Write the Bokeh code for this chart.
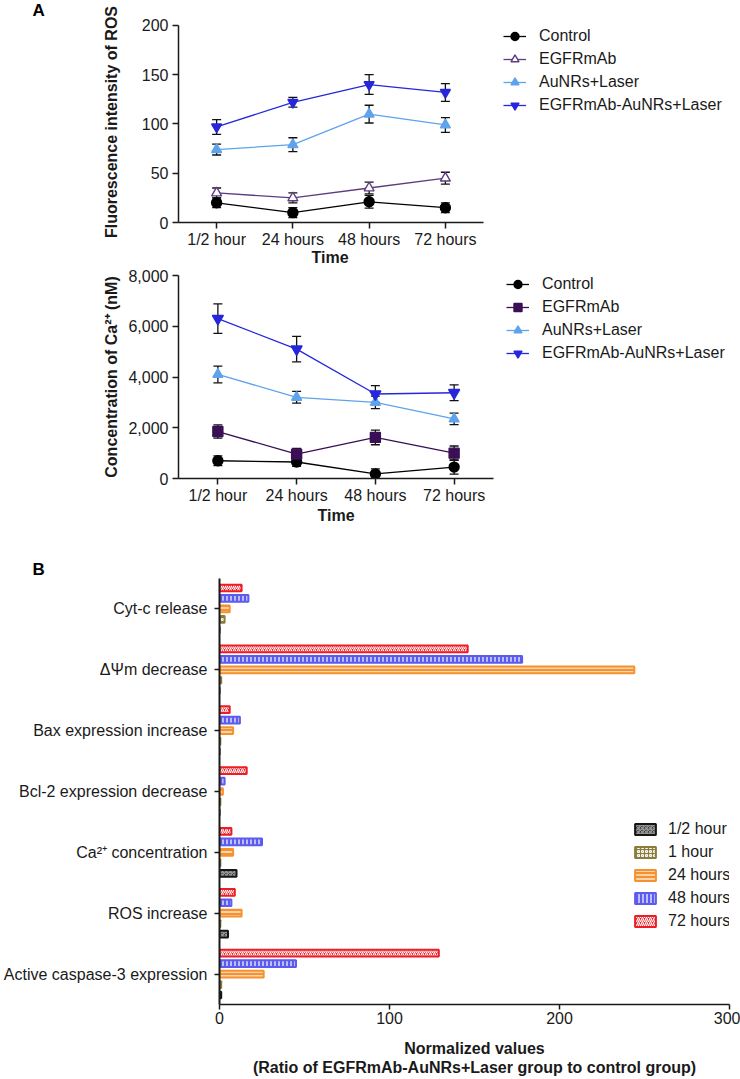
from bokeh.plotting import figure
from bokeh.models import (ColumnDataSource, Whisker, TeeHead, Legend, LegendItem,
                          FixedTicker, NumeralTickFormatter, FactorRange, Title)
from bokeh.transform import dodge
from bokeh.embed import file_html
from bokeh.resources import INLINE

FONT = "Liberation Sans"

# ---------------- data ----------------
time_labels = ["1/2 hour", "24 hours", "48 hours", "72 hours"]
time_idx = [0, 1, 2, 3]

# Panel A (top): fluorescence intensity of ROS
ros_control = [20, 10, 21, 15]
ros_control_err = [5, 5, 6.5, 5]
ros_egfrmab = [30, 25, 35, 45]
ros_egfrmab_err = [5, 5, 6, 6]
ros_aunrs = [74, 79, 110, 99]
ros_aunrs_err = [5.5, 7, 9, 7.5]
ros_egfr_aunrs = [97, 122, 140, 132]
ros_egfr_aunrs_err = [7.5, 5, 10, 9]
ros_ticks = [0, 50, 100, 150, 200]

# Panel A (bottom): Ca2+ concentration (nM)
ca_control = [700, 650, 180, 450]
ca_control_err = [190, 170, 200, 280]
ca_egfrmab = [1850, 960, 1620, 1000]
ca_egfrmab_err = [260, 230, 290, 280]
ca_aunrs = [4100, 3200, 3000, 2350]
ca_aunrs_err = [330, 230, 250, 230]
ca_egfr_aunrs = [6300, 5100, 3330, 3380]
ca_egfr_aunrs_err = [580, 500, 330, 310]
ca_ticks = [0, 2000, 4000, 6000, 8000]

group_names = ["Control", "EGFRmAb", "AuNRs+Laser", "EGFRmAb-AuNRs+Laser"]

# Panel B: normalized values
b_categories = ["Cyt-c release", "\u0394\u03a8m decrease", "Bax expression increase",
                "Bcl-2 expression decrease", "Ca\u00b2\u207a concentration",
                "ROS increase", "Active caspase-3 expression"]
b_half_hour = [0, 0, 0, 0, 10, 5, 1]
b_one_hour = [3, 1, 0.5, 0.5, 0.5, 0.5, 1]
b_24_hours = [6, 244, 8, 2, 8, 13, 26]
b_48_hours = [17, 178, 12, 3, 25, 7, 45]
b_72_hours = [13, 146, 6, 16, 7, 9, 129]
b_series_labels = ["1/2 hour", "1 hour", "24 hours", "48 hours", "72 hours"]
b_ticks = [0, 100, 200, 300]

# ---------------- styles ----------------
C_CTRL = "#000000"
C_EGFR_A = "#5d3d80"
C_EGFR_B = "#3b0f55"
C_AU = "#5ea3ec"
C_EA = "#2626dc"
TXT = "#1a1a1a"


def style(p):
    p.outline_line_color = None
    p.xgrid.visible = False
    p.ygrid.visible = False
    for ax in p.axis:
        ax.axis_line_width = 1.5
        ax.axis_line_color = TXT
        ax.major_tick_line_width = 1.5
        ax.major_tick_line_color = TXT
        ax.major_tick_in = 0
        ax.major_tick_out = 6
        ax.minor_tick_line_color = None
        ax.major_label_text_font = FONT
        ax.major_label_text_font_size = "16px"
        ax.major_label_text_color = TXT
        ax.axis_label_text_font = FONT
        ax.axis_label_text_font_size = "16px"
        ax.axis_label_text_font_style = "bold"
        ax.axis_label_text_color = TXT


def panel_title(p, text, offset, valign):
    p.title.text = text
    p.title.text_font = FONT
    p.title.text_font_size = "17px"
    p.title.text_font_style = "bold"
    p.title.text_color = "#000000"
    p.title.align = "left"
    p.title.offset = offset
    p.title.standoff = 0
    p.title.vertical_align = valign


def line_panel(p, series, legend_loc):
    items = []
    for name, vals, errs, color, marker, fill, size in series:
        src = ColumnDataSource(dict(
            x=time_idx, y=vals,
            lo=[v - e for v, e in zip(vals, errs)],
            hi=[v + e for v, e in zip(vals, errs)]))
        w = Whisker(source=src, base="x", upper="hi", lower="lo", dimension="height",
                    line_color="#111111", line_width=1.3,
                    upper_head=TeeHead(size=9, line_color="#111111", line_width=1.3),
                    lower_head=TeeHead(size=9, line_color="#111111", line_width=1.3))
        p.add_layout(w)
        rl = p.line("x", "y", source=src, line_color=color, line_width=1.3)
        rm = p.scatter("x", "y", source=src, marker=marker, size=size,
                       fill_color=fill, line_color=color, line_width=1.4)
        items.append(LegendItem(label=name, renderers=[rl, rm]))
    leg = Legend(items=items, location=legend_loc, padding=0, margin=0,
                 border_line_color=None, background_fill_alpha=0,
                 label_text_font=FONT, label_text_font_size="16px",
                 label_text_color=TXT,
                 glyph_width=23, glyph_height=20, label_height=20,
                 spacing=3, label_standoff=13)
    p.add_layout(leg)


def time_axis(p, title_offset, title_standoff):
    p.xaxis.ticker = FixedTicker(ticks=time_idx)
    p.xaxis.major_label_overrides = {i: t for i, t in zip(time_idx, time_labels)}
    p.xaxis.major_label_standoff = 2
    # the axis line only spans the four time points (legend sits to the right)
    p.xaxis.bounds = (-0.5, 3.5)
    p.add_layout(Title(text="Time", align="left", offset=title_offset,
                       standoff=title_standoff, vertical_align="top",
                       text_font=FONT, text_font_size="16px", text_font_style="bold",
                       text_color=TXT), "below")


# ---------------- figure 1 : ROS ----------------
# frame spans x=178..740; the 4 time slots occupy the first 305 px
p1 = figure(width=740, height=265, x_range=(-0.5, -0.5 + 562 / 76.25), y_range=(0, 204),
            output_backend="svg", toolbar_location=None,
            min_border_left=178, min_border_right=0,
            min_border_top=20, min_border_bottom=41)
style(p1)
time_axis(p1, 133, -4)
p1.yaxis.ticker = FixedTicker(ticks=ros_ticks)
p1.yaxis.bounds = (0, 200)
p1.yaxis.axis_label = "Fluorescence intensity of ROS"
p1.yaxis.major_label_standoff = 4
p1.yaxis.axis_label_standoff = 19
panel_title(p1, "A", -146, "top")
line_panel(p1, [
    (group_names[0], ros_control, ros_control_err, C_CTRL, "circle", C_CTRL, 10),
    (group_names[1], ros_egfrmab, ros_egfrmab_err, C_EGFR_A, "triangle", "white", 10),
    (group_names[2], ros_aunrs, ros_aunrs_err, C_AU, "triangle", C_AU, 10),
    (group_names[3], ros_egfr_aunrs, ros_egfr_aunrs_err, C_EA, "inverted_triangle", C_EA, 10),
], (325, 107))

# ---------------- figure 2 : Ca2+ ----------------
# frame spans x=178..740; the 4 time slots occupy the first 315 px
p2 = figure(width=740, height=260, x_range=(-0.5, -0.5 + 562 / 78.75), y_range=(0, 8000),
            output_backend="svg", toolbar_location=None,
            min_border_left=178, min_border_right=0,
            min_border_top=10, min_border_bottom=45)
style(p2)
time_axis(p2, 139, 0)
p2.yaxis.ticker = FixedTicker(ticks=ca_ticks)
p2.yaxis.formatter = NumeralTickFormatter(format="0,0")
p2.yaxis.axis_label = "Concentration of Ca\u00b2\u207a (nM)"
p2.yaxis.major_label_standoff = 4
p2.yaxis.axis_label_standoff = 5
line_panel(p2, [
    (group_names[0], ca_control, ca_control_err, C_CTRL, "circle", C_CTRL, 10),
    (group_names[1], ca_egfrmab, ca_egfrmab_err, C_EGFR_B, "square", C_EGFR_B, 10),
    (group_names[2], ca_aunrs, ca_aunrs_err, C_AU, "triangle", C_AU, 10),
    (group_names[3], ca_egfr_aunrs, ca_egfr_aunrs_err, C_EA, "inverted_triangle", C_EA, 11),
], (328, 115))

# ---------------- figure 3 : normalized values ----------------
p3 = figure(width=740, height=554, x_range=(0, 300),
            y_range=FactorRange(factors=list(reversed(b_categories)), range_padding=0),
            output_backend="svg", toolbar_location=None,
            min_border_left=219, min_border_right=11,
            min_border_top=53, min_border_bottom=74)
style(p3)
panel_title(p3, "B", -187, "bottom")
p3.xaxis.ticker = FixedTicker(ticks=b_ticks)
p3.xaxis.major_tick_out = 5
p3.xaxis.major_label_standoff = 2
p3.xaxis.axis_label = "Normalized values\n(Ratio of EGFRmAb-AuNRs+Laser group to control group)"
p3.xaxis.axis_label_standoff = 13
p3.xaxis.axis_label_text_line_height = 1.15
p3.yaxis.major_tick_out = 5
p3.yaxis.major_label_standoff = 7
p3.yaxis.axis_line_width = 2

src3 = ColumnDataSource(dict(cat=b_categories, h05=b_half_hour, h1=b_one_hour,
                             h24=b_24_hours, h48=b_48_hours, h72=b_72_hours))
b_styles = [
    ("h05", -0.344, "#161616", "criss_cross", "#9a9a9a"),
    ("h1", -0.172, "#8a7d3c", "ring", "white"),
    ("h24", 0.0, "#f5922f", "horizontal_line", "white"),
    ("h48", 0.172, "#5b5bef", "vertical_line", "white"),
    ("h72", 0.344, "#ee1c24", "right_diagonal_line", "white"),
]
items3 = []
for (key, off, col, hatch, hcol), lbl in zip(b_styles, b_series_labels):
    r = p3.hbar(y=dodge("cat", off, range=p3.y_range), left=0, right=key, height=0.11,
                source=src3, fill_color=col, line_color=col, line_width=2,
                hatch_pattern=hatch, hatch_color=hcol, hatch_scale=4, hatch_weight=1.2)
    items3.append(LegendItem(label=lbl, renderers=[r]))
leg3 = Legend(items=items3, location=(413, 74), padding=0, margin=0,
              border_line_color=None, background_fill_alpha=0,
              label_text_font=FONT, label_text_font_size="16px", label_text_color=TXT,
              glyph_width=26, glyph_height=14, label_height=19, spacing=4, label_standoff=10)
p3.add_layout(leg3)

open("out.html", "w").write(file_html([p1, p2, p3], INLINE))
